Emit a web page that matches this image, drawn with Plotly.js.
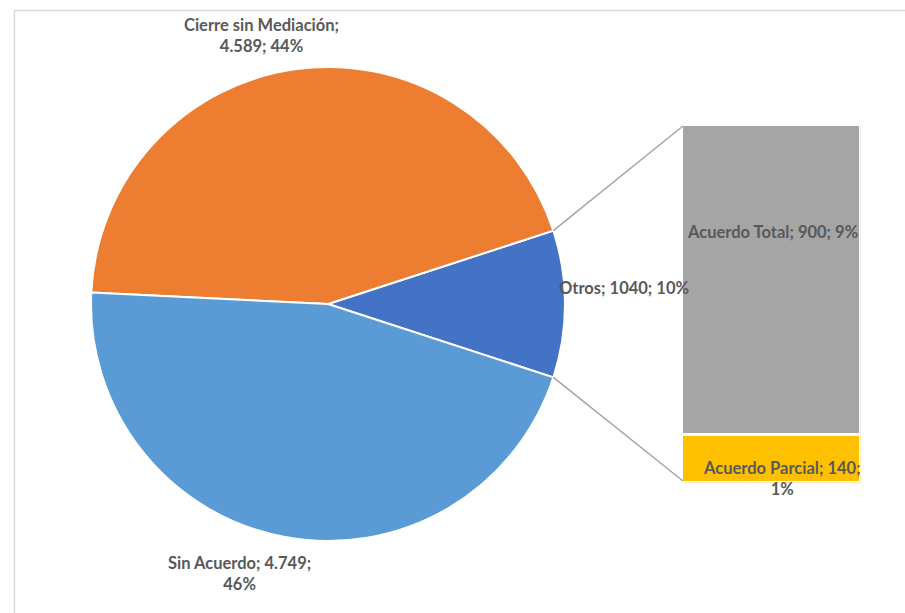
<!DOCTYPE html>
<html>
<head>
<meta charset="utf-8">
<script src="https://cdn.plot.ly/plotly-3.0.1.min.js"></script>
<style>html,body{margin:0;padding:0;background:#fff;}#chart{width:905px;height:613px;}</style>
</head>
<body>
<div id="chart"></div>
<script>
// ---- data ----
const pieLabels = ["Otros", "Cierre sin Mediación", "Sin Acuerdo"];
const pieValues = [1040, 4589, 4749];
const pieColors = ["#4472C4", "#ED7D31", "#5B9BD5"];
const barLabels = ["Acuerdo Parcial", "Acuerdo Total"];
const barValues = [140, 900];
const barColors = ["#FFC000", "#A5A5A5"];

const W = 905, H = 613;
const total = pieValues.reduce((a, b) => a + b, 0);
const pct = v => Math.round(v / total * 100) + "%";
const fmtDot = v => String(v).replace(/\B(?=(\d{3})+(?!\d))/g, ".");

// geometry (pixels)
const cx = 328, cy = 304, R = 237;
const barX0 = 683, barX1 = 859, barTop = 126, barBot = 481;
const lw = 3; // white outline of bar segments

const px = x => x / W;
const py = y => 1 - y / H;

const otrosShare = pieValues[0] / total;
const half = otrosShare * Math.PI; // half angle in radians
const rotation = 90 - otrosShare * 180;

const pieTrace = {
  type: "pie",
  labels: pieLabels,
  values: pieValues,
  sort: false,
  direction: "counterclockwise",
  rotation: rotation,
  marker: {colors: pieColors, line: {color: "#ffffff", width: 2}},
  textinfo: "none",
  hoverinfo: "label+value+percent",
  showlegend: false,
  domain: {x: [px(cx - R), px(cx + R)], y: [py(cy + R), py(cy - R)]}
};

const barTraces = barLabels.map((name, i) => ({
  type: "bar",
  name: name,
  x: ["Otros"],
  y: [barValues[i]],
  marker: {color: barColors[i], line: {color: "#ffffff", width: lw}},
  showlegend: false,
  hoverinfo: "name+y",
  xaxis: "x",
  yaxis: "y"
}));

const font = {family: "Lato, 'Noto Sans', sans-serif", size: 16.5, color: "#595959"};
function ann(text, x, y) {
  return {text: "<b>" + text + "</b>", x: px(x), y: py(y), xref: "paper", yref: "paper",
    showarrow: false, font: font, xanchor: "center", yanchor: "middle", align: "center"};
}

const annotations = [
  ann(pieLabels[1] + ";<br>" + fmtDot(pieValues[1]) + "; " + pct(pieValues[1]), 261, 35),
  ann(pieLabels[2] + "; " + fmtDot(pieValues[2]) + ";<br>" + pct(pieValues[2]), 239, 573),
  ann(pieLabels[0] + "; " + pieValues[0] + "; " + pct(pieValues[0]), 624, 288),
  ann(barLabels[1] + "; " + barValues[1] + "; " + pct(barValues[1]), 772, 232),
  ann(barLabels[0] + "; " + barValues[0] + ";<br>" + pct(barValues[0]), 782, 478)
];

const ex = cx + R * Math.cos(half);
const eyTop = cy - R * Math.sin(half);
const eyBot = cy + R * Math.sin(half);
const lineStyle = {color: "#A5A5A5", width: 1.5};
const shapes = [
  {type: "line", xref: "paper", yref: "paper", x0: px(ex), y0: py(eyTop), x1: px(barX0), y1: py(barTop), line: lineStyle},
  {type: "line", xref: "paper", yref: "paper", x0: px(ex), y0: py(eyBot), x1: px(barX0), y1: py(barBot), line: lineStyle},
  {type: "line", xref: "paper", yref: "paper", x0: px(14.5), y0: py(10.5), x1: px(906), y1: py(10.5), line: {color: "#D9D9D9", width: 1.5}},
  {type: "line", xref: "paper", yref: "paper", x0: px(14.5), y0: py(10.5), x1: px(14.5), y1: py(614), line: {color: "#D9D9D9", width: 1.5}}
];

const layout = {
  width: W, height: H,
  margin: {l: 0, r: 0, t: 0, b: 0},
  paper_bgcolor: "#ffffff", plot_bgcolor: "rgba(0,0,0,0)",
  barmode: "stack", bargap: 0,
  xaxis: {domain: [px(barX0 - lw / 2), px(barX1 + lw / 2)], visible: false, fixedrange: true},
  yaxis: {domain: [py(barBot + lw / 2), py(barTop - lw / 2)], range: [0, total * otrosShare], visible: false, fixedrange: true},
  annotations: annotations,
  shapes: shapes,
  showlegend: false
};

Plotly.newPlot("chart", [pieTrace, ...barTraces], layout, {displayModeBar: false, staticPlot: true});
</script>
</body>
</html>
